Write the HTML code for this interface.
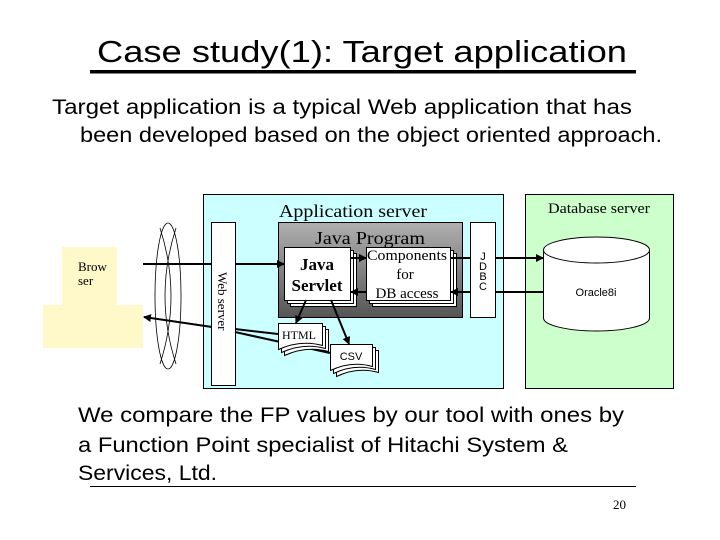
<!DOCTYPE html>
<html><head><meta charset="utf-8"><style>html,body{margin:0;padding:0;background:#fff}svg{display:block}</style></head>
<body>
<svg width="720" height="540" viewBox="0 0 720 540" xmlns="http://www.w3.org/2000/svg" font-family="Liberation Sans, sans-serif">
<defs>
<marker id="ah" markerWidth="8" markerHeight="8" refX="7" refY="4" orient="auto" markerUnits="userSpaceOnUse"><path d="M0,0 L8,4 L0,8 z" fill="#000"/></marker>
<linearGradient id="gr" x1="0" y1="0" x2="0" y2="1"><stop offset="0" stop-color="#b0b0b0"/><stop offset="1" stop-color="#555"/></linearGradient>
</defs>
<text x="97" y="62" font-size="31" textLength="530" lengthAdjust="spacingAndGlyphs">Case study(1): Target application</text>
<rect x="90" y="70" width="546" height="3.5" fill="#000"/>
<text x="52" y="114" font-size="21" textLength="580" lengthAdjust="spacingAndGlyphs">Target application is a typical Web application that has</text>
<text x="80" y="142" font-size="21" textLength="582" lengthAdjust="spacingAndGlyphs">been developed based on the object oriented approach.</text>

<rect x="203.5" y="194.5" width="300" height="194" fill="#ccffff" stroke="#000"/>
<rect x="525.5" y="194.5" width="148" height="194" fill="#ccffcc" stroke="#000"/>
<text x="279" y="217" font-size="18" font-family="Liberation Serif, serif" textLength="148" lengthAdjust="spacingAndGlyphs">Application server</text>
<text x="548" y="213" font-size="15" font-family="Liberation Serif, serif" textLength="102" lengthAdjust="spacingAndGlyphs">Database server</text>
<rect x="278.5" y="222.5" width="184" height="95" fill="url(#gr)" stroke="#000"/>
<text x="315" y="244" font-size="18" font-family="Liberation Serif, serif" textLength="110" lengthAdjust="spacingAndGlyphs">Java Program</text>
<rect x="211.5" y="222.5" width="24" height="163" fill="#fff" stroke="#000"/>
<text transform="translate(218,272) rotate(90)" font-size="13" font-family="Liberation Serif, serif">Web server</text>
<rect x="470.5" y="222.5" width="25" height="95" fill="#fff" stroke="#000"/>
<text x="483" y="260" font-size="11" text-anchor="middle">J</text>
<text x="483" y="270" font-size="11" text-anchor="middle">D</text>
<text x="483" y="280" font-size="11" text-anchor="middle">B</text>
<text x="483" y="290" font-size="11" text-anchor="middle">C</text>

<rect x="290.5" y="253.5" width="66" height="53" fill="#fff" stroke="#000"/>
<rect x="287.5" y="250.5" width="66" height="53" fill="#fff" stroke="#000"/>
<rect x="284.5" y="247.5" width="66" height="53" fill="#fff" stroke="#000"/>
<text x="317" y="270" font-size="17" font-weight="bold" text-anchor="middle" font-family="Liberation Serif, serif">Java</text>
<text x="317" y="291" font-size="17" font-weight="bold" text-anchor="middle" font-family="Liberation Serif, serif">Servlet</text>
<rect x="372.5" y="253.5" width="84" height="53" fill="#fff" stroke="#000"/>
<rect x="369.5" y="250.5" width="84" height="53" fill="#fff" stroke="#000"/>
<rect x="366.5" y="247.5" width="84" height="53" fill="#fff" stroke="#000"/>
<text x="407" y="260" font-size="15" text-anchor="middle" font-family="Liberation Serif, serif" textLength="80" lengthAdjust="spacingAndGlyphs">Components</text>
<text x="405" y="279" font-size="15" text-anchor="middle" font-family="Liberation Serif, serif">for</text>
<text x="407" y="298" font-size="15" text-anchor="middle" font-family="Liberation Serif, serif">DB access</text>

<path d="M543.5,250 L543.5,318 A53,13 0 0 0 649.5,318 L649.5,250" fill="#fff" stroke="#000"/>
<ellipse cx="596.5" cy="250" rx="53" ry="13" fill="#fff" stroke="#000"/>
<text x="596" y="296" font-size="11" text-anchor="middle">Oracle8i</text>

<rect x="62" y="247" width="55" height="58" fill="#fff8c8"/>
<rect x="43" y="305" width="100" height="43" fill="#fff8c8"/>
<text x="78" y="271" font-size="13" font-family="Liberation Serif, serif">Brow</text>
<text x="78" y="285" font-size="13" font-family="Liberation Serif, serif">ser</text>

<ellipse cx="168" cy="296" rx="13" ry="73" fill="none" stroke="#000" stroke-width="0.8"/>
<path d="M160,228 Q182,296 160,364 M176,228 Q154,296 176,364" fill="none" stroke="#000" stroke-width="0.8"/>

<line x1="143" y1="264" x2="211" y2="264" stroke="#000" stroke-width="2"/>
<line x1="235" y1="264" x2="284" y2="264" stroke="#000" stroke-width="2" marker-end="url(#ah)"/>
<line x1="212" y1="327" x2="144" y2="317" stroke="#000" stroke-width="2" marker-end="url(#ah)"/>
<line x1="235" y1="329" x2="278" y2="334" stroke="#000" stroke-width="2"/>
<line x1="235" y1="332" x2="330" y2="353" stroke="#000" stroke-width="2"/>
<line x1="350" y1="258" x2="366" y2="258" stroke="#000" stroke-width="2" marker-end="url(#ah)"/>
<line x1="366" y1="292" x2="351" y2="292" stroke="#000" stroke-width="2" marker-end="url(#ah)"/>
<line x1="450" y1="258" x2="470" y2="258" stroke="#000" stroke-width="2"/>
<line x1="495" y1="258" x2="543" y2="258" stroke="#000" stroke-width="2" marker-end="url(#ah)"/>
<line x1="543" y1="292" x2="495" y2="292" stroke="#000" stroke-width="2"/>
<line x1="470" y1="292" x2="451" y2="292" stroke="#000" stroke-width="2" marker-end="url(#ah)"/>
<line x1="306" y1="300" x2="296" y2="323" stroke="#000" stroke-width="2" marker-end="url(#ah)"/>
<line x1="331" y1="300" x2="349" y2="344" stroke="#000" stroke-width="2" marker-end="url(#ah)"/>

<path d="M284.5,329.5 h44 v22 q-22,-6 -44,4 z" fill="#fff" stroke="#000"/>
<path d="M281.5,326.5 h44 v22 q-22,-6 -44,4 z" fill="#fff" stroke="#000"/>
<path d="M278.5,323.5 h44 v22 q-22,-6 -44,4 z" fill="#fff" stroke="#000"/>
<text x="282" y="339" font-size="12" font-family="Liberation Serif, serif">HTML</text>
<path d="M336.5,350.5 h42 v22 q-21,-6 -42,4 z" fill="#fff" stroke="#000"/>
<path d="M333.5,347.5 h42 v22 q-21,-6 -42,4 z" fill="#fff" stroke="#000"/>
<path d="M330.5,344.5 h42 v22 q-21,-6 -42,4 z" fill="#fff" stroke="#000"/>
<text x="351" y="360" font-size="11" text-anchor="middle">CSV</text>

<text x="78" y="422" font-size="21" textLength="546" lengthAdjust="spacingAndGlyphs">We compare the FP values by our tool with ones by</text>
<text x="78" y="452" font-size="21" textLength="490" lengthAdjust="spacingAndGlyphs">a Function Point specialist of Hitachi System &amp;</text>
<text x="78" y="480" font-size="21" textLength="139" lengthAdjust="spacingAndGlyphs">Services, Ltd.</text>
<rect x="90" y="486" width="546" height="1" fill="#000"/>
<text x="613" y="509" font-size="13" font-family="Liberation Serif, serif">20</text>
</svg>
</body></html>
